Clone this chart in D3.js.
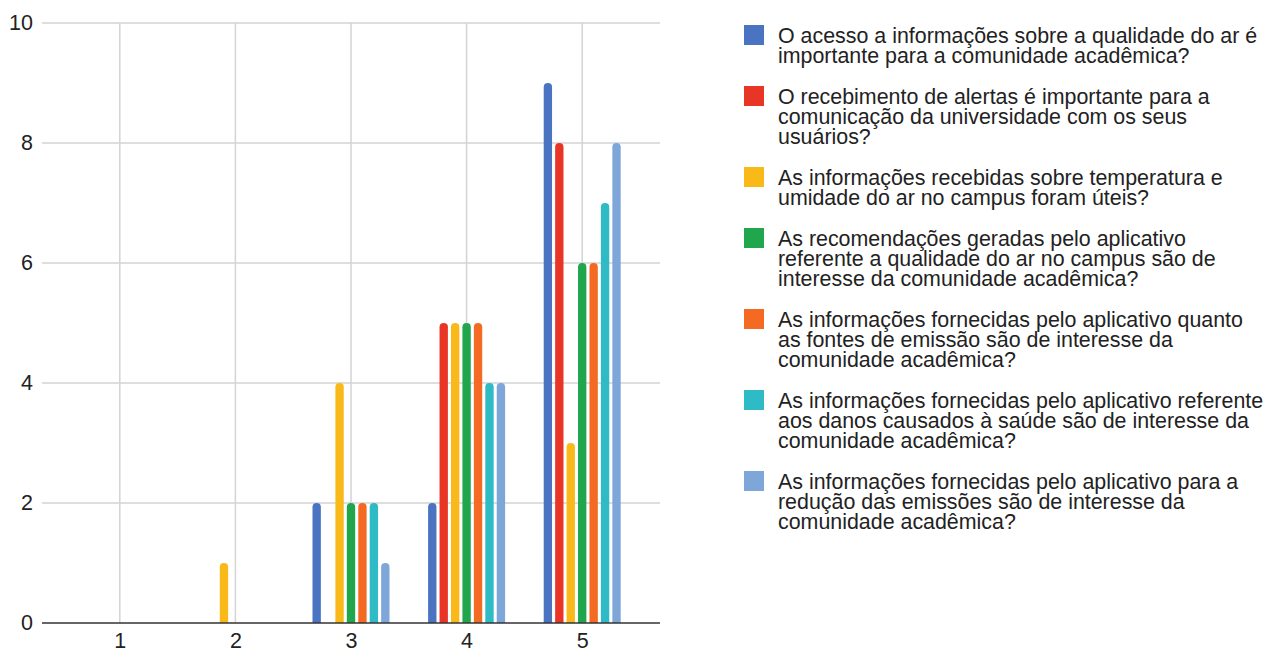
<!DOCTYPE html>
<html>
<head>
<meta charset="utf-8">
<script src="https://cdn.jsdelivr.net/npm/d3@7"></script>
<style>
html,body{margin:0;padding:0;background:#fff;}
svg{display:block;}
text{font-family:"Liberation Sans",Arial,sans-serif;fill:#222;}
</style>
</head>
<body>
<svg id="chart" width="1268" height="653"></svg>
<script>
const categories = ["1","2","3","4","5"];
const seriesNames = [
  "O acesso a informações sobre a qualidade do ar é importante para a comunidade acadêmica?",
  "O recebimento de alertas é importante para a comunicação da universidade com os seus usuários?",
  "As informações recebidas sobre temperatura e umidade do ar no campus foram úteis?",
  "As recomendações geradas pelo aplicativo referente a qualidade do ar no campus são de interesse da comunidade acadêmica?",
  "As informações fornecidas pelo aplicativo quanto as fontes de emissão são de interesse da comunidade acadêmica?",
  "As informações fornecidas pelo aplicativo referente aos danos causados à saúde são de interesse da comunidade acadêmica?",
  "As informações fornecidas pelo aplicativo para a redução das emissões são de interesse da comunidade acadêmica?"
];
const legendLines = [
  ["O acesso a informações sobre a qualidade do ar é","importante para a comunidade acadêmica?"],
  ["O recebimento de alertas é importante para a","comunicação da universidade com os seus","usuários?"],
  ["As informações recebidas sobre temperatura e","umidade do ar no campus foram úteis?"],
  ["As recomendações geradas pelo aplicativo","referente a qualidade do ar no campus são de","interesse da comunidade acadêmica?"],
  ["As informações fornecidas pelo aplicativo quanto","as fontes de emissão são de interesse da","comunidade acadêmica?"],
  ["As informações fornecidas pelo aplicativo referente","aos danos causados à saúde são de interesse da","comunidade acadêmica?"],
  ["As informações fornecidas pelo aplicativo para a","redução das emissões são de interesse da","comunidade acadêmica?"]
];
const colors = ["#4a74c2","#e93526","#f8b919","#20a64c","#f46a23","#2fbbc5","#7fa6d9"];
// values[series][category]
const s1 = [0,0,2,2,9];
const s2 = [0,0,0,5,8];
const s3 = [0,1,4,5,3];
const s4 = [0,0,2,5,6];
const s5 = [0,0,2,5,6];
const s6 = [0,0,2,4,7];
const s7 = [0,0,1,4,8];
const values = [s1,s2,s3,s4,s5,s6,s7];
const yTicks = [0,2,4,6,8,10];

const svg = d3.select("#chart");
const pLeft = 42, pRight = 660, pTop = 23, pBottom = 623;

const x = d3.scalePoint().domain(categories).range([pLeft, pRight]).padding(0.673);
const inner = d3.scaleBand().domain(d3.range(seriesNames.length)).range([-38.5, 38.5]).paddingInner(0.27);
const y = d3.scaleLinear().domain([0, 10]).range([pBottom, pTop]);

// horizontal gridlines
svg.append("g").selectAll("line").data(yTicks.filter(d => d !== 0)).join("line")
  .attr("x1", pLeft).attr("x2", pRight)
  .attr("y1", d => y(d)).attr("y2", d => y(d))
  .attr("stroke", "#d3d3d3").attr("stroke-width", 1.5);
// vertical gridlines
svg.append("g").selectAll("line").data(categories).join("line")
  .attr("x1", d => x(d)).attr("x2", d => x(d))
  .attr("y1", pTop).attr("y2", pBottom)
  .attr("stroke", "#d3d3d3").attr("stroke-width", 1.5);

// y axis labels
const yAxis = d3.axisLeft(y).tickValues(yTicks).tickSize(0).tickPadding(0);
const gy = svg.append("g").attr("transform", `translate(33,0)`).call(yAxis);
gy.select(".domain").remove();
gy.selectAll("text").attr("font-size", "21.5px").attr("fill", "#222")
  .style("font-family", '"Liberation Sans", Arial, sans-serif');

// x axis labels
const xAxis = d3.axisBottom(x).tickSize(0).tickPadding(0);
const gx = svg.append("g").attr("transform", `translate(0,${pBottom + 10})`).call(xAxis);
gx.select(".domain").remove();
gx.selectAll("text").attr("font-size", "21.5px").attr("fill", "#222")
  .style("font-family", '"Liberation Sans", Arial, sans-serif');

// bars
function barPath(x0, w, y0, y1) {
  const h = y0 - y1;
  if (h <= 0) return "";
  const r = Math.min(w / 2, h);
  return `M${x0},${y0} L${x0},${y1 + r} Q${x0},${y1} ${x0 + r},${y1} L${x0 + w - r},${y1} Q${x0 + w},${y1} ${x0 + w},${y1 + r} L${x0 + w},${y0} Z`;
}
const barData = [];
values.forEach((vals, si) => vals.forEach((v, ci) => barData.push({si, ci, v})));
svg.append("g").selectAll("path").data(barData).join("path")
  .attr("d", d => barPath(x(categories[d.ci]) + inner(d.si), inner.bandwidth(), y(0), y(d.v)))
  .attr("fill", d => colors[d.si]);

// baseline
svg.append("line").attr("x1", pLeft).attr("x2", pRight).attr("y1", pBottom).attr("y2", pBottom)
  .attr("stroke", "#333").attr("stroke-width", 1.5);

// legend
const lineH = 20, entryGap = 21;
let ly = 35;
const lg = svg.append("g");
legendLines.forEach((lines, i) => {
  lg.append("rect").attr("x", 744).attr("y", ly - 10).attr("width", 20).attr("height", 20)
    .attr("fill", colors[i]);
  const t = lg.append("text").attr("x", 778).attr("y", ly + 7.5).attr("font-size", "21.4px");
  lines.forEach((ln, j) => {
    t.append("tspan").attr("x", 778).attr("dy", j === 0 ? 0 : lineH).text(ln);
  });
  ly += lines.length * lineH + entryGap;
});
</script>
</body>
</html>
